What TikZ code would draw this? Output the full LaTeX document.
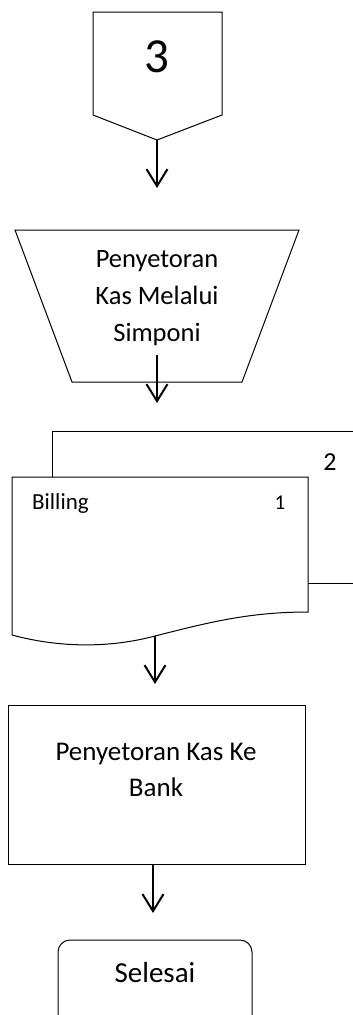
\documentclass[tikz,border=0pt]{standalone}
\usepackage{fontspec}
\setmainfont{Carlito}
\usetikzlibrary{arrows.meta}
\begin{document}
\begin{tikzpicture}[x=1pt,y=-1pt,
  shapeline/.style={draw=black,line width=1pt,line join=miter},
  arr/.style={draw=black,line width=2pt,-{Straight Barb[length=17pt,width=21pt]}},
  lbl/.style={inner sep=0pt,align=center,text=black}]
\useasboundingbox (0,0) rectangle (353,1015);
\clip (0,0) rectangle (353,1015);

% off-page connector
\draw[shapeline] (93,12) -- (222,12) -- (222,115) -- (157,140) coordinate (opTip) -- (93,115) -- cycle;
\node[lbl,font=\fontsize{49}{56}\selectfont] (three) at (157,57) {3};
\coordinate (a1) at (157,188);
\draw[arr] (opTip) -- (a1);

% manual operation (trapezoid)
\draw[shapeline] (15,230) -- (299,230) -- (242,382) -- (72,382) -- cycle;
\node[lbl,font=\fontsize{26.5}{37}\selectfont] (manual) at (157,298) {Penyetoran\\Kas Melalui\\Simponi};
\coordinate (a2s) at (157,355);
\coordinate (a2e) at (157,403);
\draw[arr] (a2s) -- (a2e);

% multi-document
\draw[shapeline] (52,477) -- (52,431) -- (362,431);
\draw[shapeline] (308,583) -- (362,583);
\draw[shapeline,fill=white] (12,477) -- (308,477) -- (308,612)
  .. controls (250,612) and (210,622) .. (155,636) coordinate (docB)
  .. controls (110,648) and (60,648) .. (12,635) -- cycle;
\node[lbl,font=\fontsize{26}{30}\selectfont] (two) at (330,462) {2};
\node[lbl,anchor=west,font=\fontsize{23}{27}\selectfont] (billing) at (32,503) {Billing};
\node[lbl,font=\fontsize{21}{25}\selectfont] (one) at (280,503) {1};
\coordinate (a3) at (155,684);
\draw[arr] (docB) -- (a3);

% process
\node[shapeline,minimum width=297pt,minimum height=159pt,inner sep=0pt] (proc) at (156.5,784.5) {};
\node[lbl,font=\fontsize{27}{36}\selectfont] (proctext) at (156,770) {Penyetoran Kas Ke\\Bank};
\coordinate (a4) at (153,913);
\draw[arr] (proc.south -| a4) -- (a4);

% terminator
\draw[shapeline,rounded corners=12pt] (58,940) rectangle (252,1035);
\node[lbl,font=\fontsize{29}{33}\selectfont] (end) at (155,973) {Selesai};
\end{tikzpicture}
\end{document}
